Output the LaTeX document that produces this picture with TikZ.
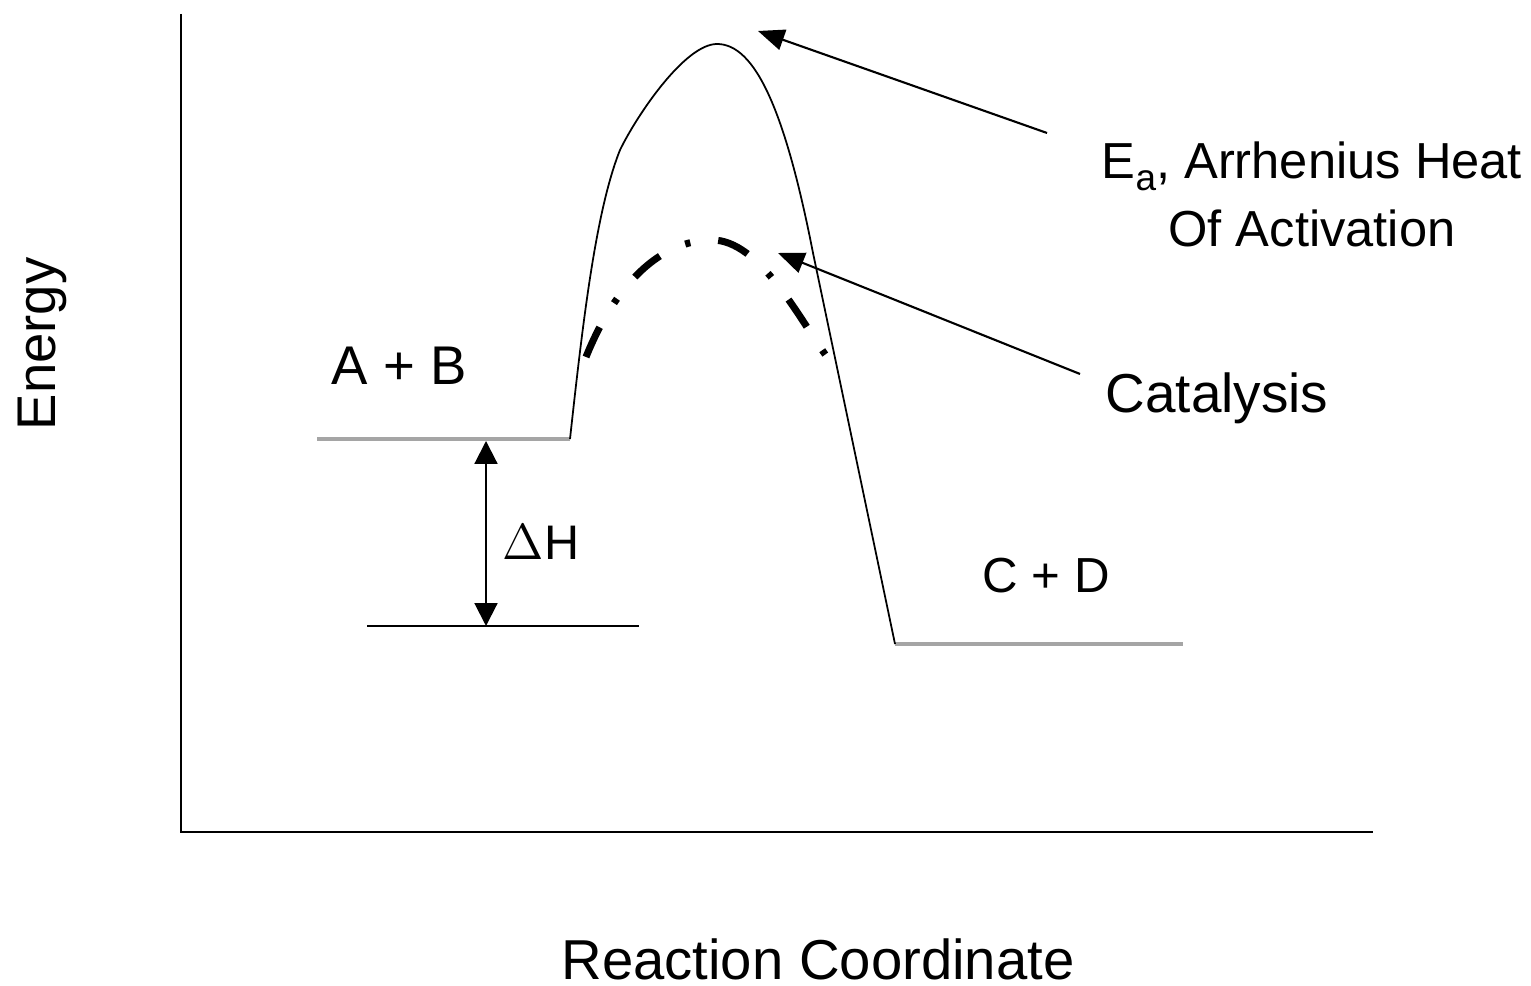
\documentclass[tikz,border=0pt]{standalone}
\usepackage{fontspec}
\setmainfont{Liberation Sans}
\usetikzlibrary{arrows.meta}
\begin{document}
\begin{tikzpicture}[x=0.01cm,y=-0.01cm,
  axis/.style={line width=0.6pt,black},
  level/.style={line width=0.9pt,draw={rgb,255:red,165;green,165;blue,165}},
  pathline/.style={line width=0.5pt,black},
  catline/.style={line width=2pt,black,dash pattern=on 9.3pt off 8pt on 1.5pt off 8pt},
  pointer/.style={line width=0.6pt,black,-{Triangle[length=7.5pt,width=6pt]}},
  dh/.style={line width=0.6pt,black,{Triangle[length=6.5pt,width=6.5pt]}-{Triangle[length=6.5pt,width=6.5pt]}},
  lbl/.style={inner sep=0pt,anchor=base west}]
\useasboundingbox (0,0) rectangle (1531,986);
% axes
\coordinate (origin) at (181,832);
\coordinate (ytop) at (181,14);
\coordinate (xend) at (1373,832);
\draw[axis] (ytop) -- (origin) -- (xend);
% levels
\coordinate (abL) at (317,439);
\coordinate (abR) at (570,439);
\coordinate (cdL) at (895,644);
\coordinate (cdR) at (1183,644);
\draw[level] (abL) -- (abR);
\draw[level] (cdL) -- (cdR);
\coordinate (lowL) at (367,626);
\coordinate (lowR) at (639,626);
\draw[axis] (lowL) -- (lowR);
% uncatalysed path
\coordinate (shoulder) at (620,150);
\coordinate (peak) at (717,44);
\coordinate (desc) at (813,253);
\draw[pathline] (abR) .. controls (583,320) and (596,210) .. (shoulder)
  .. controls (637,115) and (685,44) .. (peak)
  .. controls (755,44) and (785,110) .. (desc) -- (cdL);
% catalysed path
\coordinate (catS) at (586,357);
\coordinate (catP) at (712,240);
\coordinate (catE) at (827,357);
\draw[catline] (catS) .. controls (615,285) and (660,240) .. (catP)
  .. controls (760,240) and (800,320) .. (catE);
% delta H
\coordinate (dhT) at (486,441);
\coordinate (dhB) at (486,626);
\draw[dh] (dhT) -- (dhB);
% pointers
\coordinate (eaTail) at (1047,133);
\coordinate (eaTip) at (758,31);
\draw[pointer] (eaTail) -- (eaTip);
\coordinate (catTail) at (1080,374);
\coordinate (catTip) at (778,253);
\draw[pointer] (catTail) -- (catTip);
% labels
\node[lbl,font=\fontsize{15.5}{18}\selectfont] (ab) at (331,385) {A + B};
\node[lbl,font=\fontsize{14}{17}\selectfont] (cd) at (982,593) {C + D};
\node[lbl,font=\fontsize{13.8}{17}\selectfont] (dH) at (502,560) {$\Delta$H};
\node[inner sep=0pt,anchor=base,font=\fontsize{14.4}{19.6}\selectfont,align=center] (ea) at (1312,247) {E\raisebox{-0.45ex}{\fontsize{10.5}{10.5}\selectfont a}, Arrhenius Heat\\Of Activation};
\node[lbl,font=\fontsize{15.6}{18}\selectfont] (cat) at (1105,413) {Catalysis};
\node[inner sep=0pt,anchor=base,rotate=90,font=\fontsize{15.5}{18}\selectfont] (energy) at (55,344) {Energy};
\node[inner sep=0pt,anchor=base,font=\fontsize{16}{19}\selectfont] (rc) at (818,979) {Reaction Coordinate};
\end{tikzpicture}
\end{document}
